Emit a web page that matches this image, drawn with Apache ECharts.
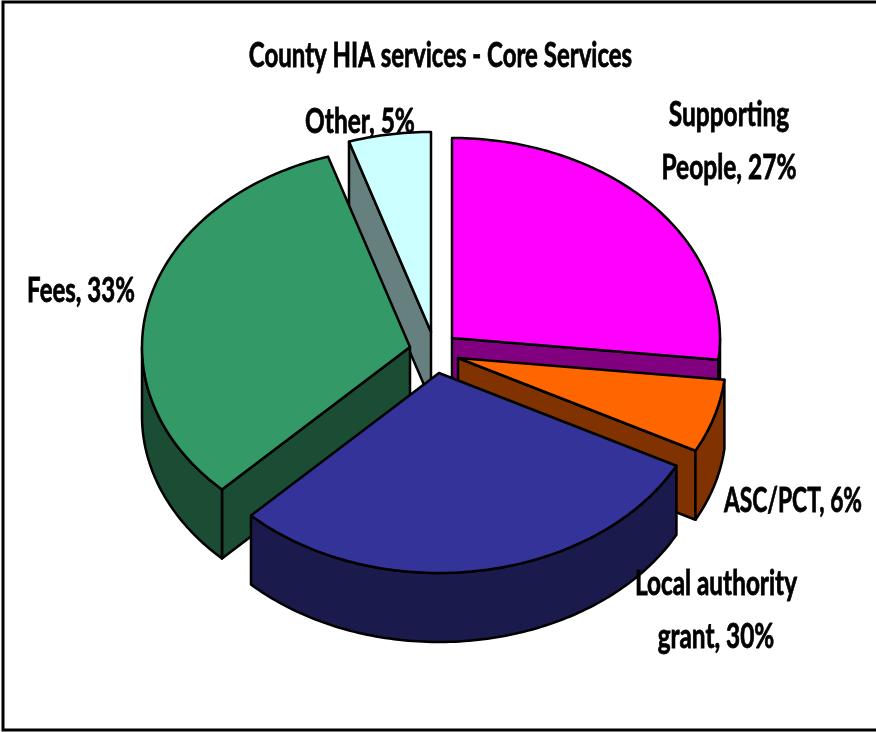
<!DOCTYPE html>
<html>
<head>
<meta charset="utf-8">
<style>html,body{margin:0;padding:0;background:#fff}#chart{width:876px;height:732px}</style>
<script src="https://cdn.jsdelivr.net/npm/echarts@6/dist/echarts.min.js"></script>
</head>
<body>
<div id="chart"></div>
<script>
// Funding shares, percent, clockwise from twelve o'clock
const categories = ['Supporting\nPeople', 'ASC/PCT', 'Local authority\ngrant', 'Fees', 'Other'];
const shares = [27, 6, 30, 33, 5];
const chartTitle = 'County HIA services - Core Services';

// Slice styling and the exploded-pie layout
const topColors = ['#FF00FF', '#FF6600', '#333399', '#339966', '#CCFFFF'];
const wallColors = ['#800080', '#803300', '#1A1A4D', '#1A4D33', '#668080'];
const sliceCentres = [[452, 338], [458, 358], [439, 373], [410, 347], [431, 332]];
const labelAnchors = [[729, 142], [793, 501], [716, 611], [81, 291], [360, 122]];
const labelScales = [0.79, 0.735, 0.785, 0.775, 0.79];
const paintOrder = [4, 0, 3, 1, 2];
const RX = 268, RY = 200, DEPTH = 69;
const LABEL_FONT = 'bold 30px Lato, "Liberation Sans", sans-serif';
const TITLE_SCALE_X = 0.8;
const TEXT_SCALE_Y = 1.12;

const total = shares.reduce((a, b) => a + b, 0);
const startAngles = shares.map((_, i) =>
  shares.slice(0, i).reduce((a, b) => a + b, 0) / total * 360);

const rimPoint = (c, deg, dy) => {
  const r = deg * Math.PI / 180;
  return [c[0] + RX * Math.sin(r), c[1] - RY * Math.cos(r) + dy];
};
const arcPoints = (c, a, b, dy) => {
  const pts = [];
  const steps = Math.max(2, Math.ceil(Math.abs(b - a)));
  for (let k = 0; k <= steps; k++) pts.push(rimPoint(c, a + (b - a) * k / steps, dy));
  return pts;
};
const edgeStyle = fill => ({ fill, stroke: '#000', lineWidth: 2.5, lineJoin: 'round' });
const poly = (points, fill) => ({ type: 'polygon', shape: { points }, style: edgeStyle(fill) });

function renderSlice(params, api) {
  const i = api.value(0);
  const a = startAngles[i];
  const b = a + api.value(1) / total * 360;
  const c = sliceCentres[i];
  const low = [c[0], c[1] + DEPTH];
  const children = [];
  // Cut faces seen from the front
  if (a > 180) {
    const p = rimPoint(c, a, 0), q = rimPoint(c, a, DEPTH);
    children.push(poly([c, p, q, low], wallColors[i]));
  }
  if (b < 180) {
    const p = rimPoint(c, b, 0), q = rimPoint(c, b, DEPTH);
    children.push(poly([c, p, q, low], wallColors[i]));
  }
  // Outer wall on the near half of the ellipse
  const from = Math.max(a, 90), to = Math.min(b, 270);
  if (from < to) {
    children.push(poly(
      arcPoints(c, from, to, 0).concat(arcPoints(c, to, from, DEPTH)), wallColors[i]));
  }
  // Top face
  children.push(poly([c].concat(arcPoints(c, a, b, 0)), topColors[i]));
  return { type: 'group', children };
}

function renderLabel(params, api) {
  const i = api.value(0);
  const anchor = labelAnchors[i];
  return {
    type: 'text',
    x: anchor[0],
    y: anchor[1],
    scaleX: labelScales[i] * 31 / 30,
    scaleY: TEXT_SCALE_Y,
    style: {
      text: categories[i] + ', ' + api.value(1) + '%',
      font: LABEL_FONT,
      lineHeight: 47.3,
      fill: '#000',
      stroke: '#000',
      lineWidth: 0.7,
      align: 'center',
      verticalAlign: 'middle'
    }
  };
}

const rows = paintOrder.map(i => [i, shares[i]]);

const chart = echarts.init(document.getElementById('chart'), null, { renderer: 'canvas' });
chart.setOption({
  animation: false,
  backgroundColor: '#fff',
  graphic: [
    { type: 'polyline', shape: { points: [[876, 2], [3, 2], [3, 730], [876, 730]] }, style: { stroke: '#000', lineWidth: 3, fill: null } },
    { type: 'text', x: 440.5, y: 56, scaleX: TITLE_SCALE_X, scaleY: TEXT_SCALE_Y, z: 10,
      style: { text: chartTitle, font: LABEL_FONT, fill: '#000', stroke: '#000', lineWidth: 0.7, align: 'center', verticalAlign: 'middle' } }
  ],
  series: [
    { type: 'custom', coordinateSystem: 'none', renderItem: renderSlice, data: rows, silent: true },
    { type: 'custom', coordinateSystem: 'none', renderItem: renderLabel, data: rows, silent: true, z: 5 }
  ]
});
</script>
</body>
</html>
